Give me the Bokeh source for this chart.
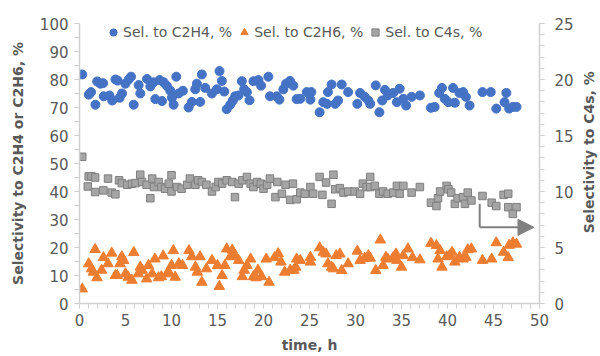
import math
from bokeh.plotting import figure
from bokeh.layouts import row
from bokeh.models import (Range1d, LinearAxis, SingleIntervalTicker, Legend, LegendItem,
                          Arrow, NormalHead, Label)
from bokeh.embed import file_html
from bokeh.resources import INLINE

# ---- data ----
t_c2h4 = [0.29, 1.01, 1.26, 1.73, 1.92, 2.28, 2.57, 2.64, 3.26, 3.55, 3.91, 4.16, 4.37, 4.62,
          4.99, 5.35, 5.6, 5.89, 6.43, 6.61, 7.34, 7.7, 8.06, 8.24, 8.71, 8.97, 9.15, 9.5,
          9.87, 10.05, 10.23, 10.52, 10.78, 11.24, 11.86, 12.22, 12.58, 12.76, 13.12, 13.3,
          13.67, 14.39, 14.93, 15.22, 15.47, 15.73, 16.0, 16.38, 16.67, 16.92, 17.28, 17.64,
          17.9, 18.19, 18.48, 18.91, 19.45, 19.74, 20.53, 20.71, 21.44, 21.73, 22.16, 22.45,
          22.88, 23.24, 23.6,
          24.0, 24.7, 25.2, 25.1, 26.1, 26.5, 26.9, 27.0, 27.4, 27.8, 28.1, 28.5, 29.2, 30.2,
          30.5, 31.0, 31.4, 31.6, 32.2, 32.6, 32.9, 33.2, 33.5, 34.1, 34.5, 34.8, 35.2, 35.5,
          36.1, 37.0, 38.2, 38.6, 39.1, 39.4, 39.7, 40.1, 40.6, 40.8, 41.3, 41.7, 42.0, 42.4,
          43.8, 44.7, 45.3, 46.2, 46.4, 46.7, 47.1, 47.5]
sel_c2h4 = [81.8, 74.6, 75.5, 71.0, 79.3, 78.5, 78.7, 74.0, 74.3, 72.5, 80.0, 79.6, 73.5, 75.0,
            78.5, 80.0, 81.0, 71.0, 78.0, 75.0, 80.2, 77.5, 79.0, 73.0, 79.8, 72.3, 79.0, 77.7,
            76.0, 73.5, 71.0, 81.0, 75.0, 76.0, 70.0, 72.0, 76.5, 78.5, 72.0, 81.8,
            77.0, 75.0, 76.5, 83.0, 79.5, 75.7, 69.4, 71.0, 72.5, 74.0, 74.3, 79.4,
            76.5, 75.5, 72.6, 79.4, 79.8, 77.8, 81.0, 74.0, 74.0, 72.8, 76.5, 78.5,
            79.5, 77.8, 73.0,
            73.1, 75.5, 75.5, 72.8, 68.3, 71.9, 71.3, 75.5, 78.2, 71.3, 72.5, 78.2, 75.5, 71.3,
            75.2, 73.8, 72.5, 71.3, 77.9, 68.3, 72.5, 76.3, 74.3, 75.2, 71.9, 76.7, 73.1, 70.7,
            73.8, 74.3, 69.9, 70.2, 75.2, 77.0, 73.1, 71.9, 77.0, 71.7, 75.2, 75.5, 73.8, 70.7,
            75.5, 75.5, 69.6, 71.9, 75.2, 69.6, 70.2, 70.2]

t_c2h6 = [0.3, 1.0, 1.3, 1.7, 1.5, 1.9, 2.4, 2.6, 3.1, 3.5, 3.9, 4.1, 4.4, 4.6, 4.8, 5.0, 5.3,
          5.7, 5.9, 6.4, 6.6, 6.8, 7.3, 7.5, 7.9, 8.2, 8.6, 8.9, 9.1, 9.5, 9.7, 10.0, 10.2,
          10.4, 10.8, 11.2, 11.9, 12.2, 12.6, 12.8, 13.1, 13.3, 13.8, 14.4, 15.0, 15.2, 15.5,
          15.8, 16.0, 16.4, 16.6, 16.9, 17.3, 17.7, 17.9, 18.2, 18.6, 18.9, 19.2, 19.4, 19.8,
          20.3, 20.6, 21.2, 21.6, 21.9, 22.3, 22.9, 23.3, 23.6, 23.5,
          24.0, 25.1, 25.1, 26.1, 26.5, 26.8, 27.0, 27.4, 27.6, 27.9, 28.3, 28.5, 29.2, 30.2,
          30.5, 31.0, 31.4, 31.6, 32.2, 32.7, 33.0, 33.3, 33.5, 34.1, 34.4, 34.5, 35.0, 35.2,
          35.7, 36.2, 37.0, 38.2, 38.8, 38.97, 39.2, 39.4, 39.9, 40.2, 40.5, 40.8, 41.3, 41.7,
          42.0, 42.2, 42.6, 43.8, 44.8, 45.3, 46.1, 46.6, 46.7, 47.1, 47.5]
sel_c2h6 = [5.2, 14.2, 12.4, 19.3, 11.2, 9.2, 11.9, 16.4, 14.2, 18.0, 10.0, 10.0, 14.2, 16.7,
            15.4, 10.6, 9.4, 8.3, 18.2, 10.6, 13.0, 11.9, 8.8, 13.6, 10.6, 15.9, 9.2, 9.6, 17.0,
            10.6, 11.2, 13.6, 18.9, 9.4, 14.2, 13.6, 18.9, 16.7, 13.0, 11.2, 16.7, 7.6, 12.4,
            15.4, 13.6, 6.1, 10.0, 13.6, 19.5, 16.7, 19.1, 17.0, 15.4, 9.6, 11.9, 13.6, 15.9,
            9.6, 9.2, 11.9, 9.6, 15.9, 7.6, 16.4, 17.8, 14.8, 11.2, 11.9, 11.9, 15.9, 13.0,
            15.4, 16.5, 14.8, 19.9, 18.3, 17.7, 14.2, 13.0, 12.4, 17.1, 17.7, 11.8, 14.2, 18.7,
            15.4, 16.2, 17.1, 16.2, 11.8, 22.7, 13.6, 16.5, 15.9, 16.4, 17.7, 15.4, 13.0, 17.1,
            19.5, 16.4, 15.6, 21.5, 20.7, 15.9, 18.9, 13.0, 16.7, 17.1, 18.3, 14.8, 16.5, 15.9,
            16.5, 19.2, 19.5, 15.4, 15.9, 21.7, 18.3, 16.4, 20.8, 21.7, 21.2]

t_c4 = [0.3, 0.9, 1.0, 1.3, 1.7, 1.7, 2.6, 3.1, 3.5, 3.9, 4.3, 4.6, 5.2, 5.7, 6.1, 6.6, 6.8,
        7.3, 7.7, 7.9, 8.1, 8.6, 8.9, 9.3, 9.7, 10.0, 10.0, 10.6, 11.1, 11.7, 12.0, 12.6, 12.9,
        13.3, 13.8, 14.4, 14.8, 15.1, 15.5, 16.0, 16.6, 16.9, 17.3, 17.7, 18.2, 18.6, 18.9,
        19.3, 19.7, 20.0, 20.4, 20.7, 21.3, 21.5, 22.0, 22.4, 22.9, 23.2, 23.6,
        24.0, 24.5, 25.1, 25.4, 26.1, 26.4, 26.8, 27.4, 27.6, 27.8, 28.3, 28.7, 29.2, 29.9,
        30.5, 30.8, 31.2, 31.6, 31.6, 32.1, 32.6, 33.0, 33.5, 34.1, 34.5, 34.8, 35.2, 36.1,
        37.0, 38.2, 38.8, 38.97, 39.2, 39.9, 40.1, 40.4, 40.8, 41.1, 41.7, 41.9, 42.2, 42.6,
        43.8, 44.8, 45.3, 46.1, 46.6, 46.6, 47.5, 47.1]
sel_c4 = [13.1, 10.45, 11.35, 11.35, 11.25, 9.95, 10.1, 11.15, 9.9, 9.75, 11.0, 10.75, 10.6,
          10.7, 10.75, 11.5, 10.85, 10.6, 9.4, 11.15, 10.4, 10.85, 10.4, 10.25, 10.7, 11.45,
          10.0, 10.4, 10.25, 10.6, 11.15, 10.6, 11.0, 10.85, 10.6, 10.0, 10.4, 10.85, 10.7,
          11.0, 10.85, 9.5, 10.7, 11.0, 11.3, 10.7, 10.4, 10.85, 10.7, 10.25, 10.6, 11.15, 9.5,
          10.85, 9.8, 10.6, 9.25, 10.7, 9.3,
          9.9, 9.8, 10.4, 9.8, 11.3, 9.7, 10.8, 8.9, 11.5, 10.2, 10.3, 9.9, 10.0, 10.0,
          9.8, 10.7, 10.4, 11.3, 10.4, 10.5, 9.8, 10.0, 9.8, 9.9, 10.5, 9.8, 10.5, 9.9,
          10.4, 9.0, 8.7, 9.4, 10.0, 10.5, 10.2, 9.9, 8.9, 9.4, 9.5, 8.9, 9.9, 9.2,
          9.6, 9.0, 8.7, 9.7, 9.8, 8.6, 8.6, 8.0]

left_title = "Selectivity to C2H4 or C2H6, %"
right_title = "Selectivity to C4s, %"
x_title = "time, h"
labels = ["Sel. to C2H4, %", "Sel. to C2H6, %", "Sel. to C4s, %"]

# ---- styles ----
TXT = "#595959"
AX = "#d0d0d0"
FONT = "DejaVu Sans"
BLUE, ORANGE, GRAY, GRAYLINE = "#4472C4", "#ED7D31", "#A5A5A5", "#7F7F7F"

p = figure(width=576, height=356, output_backend="svg", toolbar_location=None,
           x_range=Range1d(0, 50), y_range=Range1d(0, 100),
           min_border_left=79, min_border_right=36, min_border_top=23, min_border_bottom=53)
p.outline_line_color = None
p.xgrid.visible = False
p.ygrid.visible = False

p.extra_y_ranges = {"c4": Range1d(0, 25)}
rax = LinearAxis(y_range_name="c4")
p.add_layout(rax, "right")

p.xaxis.ticker = SingleIntervalTicker(interval=5, num_minor_ticks=5)
p.yaxis[0].ticker = SingleIntervalTicker(interval=10, num_minor_ticks=2)
rax.ticker = SingleIntervalTicker(interval=5, num_minor_ticks=5)

for ax in [p.xaxis[0], p.yaxis[0], rax]:
    ax.axis_line_color = AX
    ax.axis_line_width = 1.5
    ax.major_tick_line_color = AX
    ax.minor_tick_line_color = AX
    ax.major_tick_in = 0
    ax.minor_tick_in = 0
    ax.major_tick_out = 5
    ax.minor_tick_out = 5
    ax.major_label_text_font = FONT
    ax.major_label_text_font_size = "15px"
    ax.major_label_text_color = TXT
    ax.axis_label_text_font = FONT
    ax.axis_label_text_font_size = "14px"
    ax.axis_label_text_font_style = "bold"
    ax.axis_label_text_color = TXT

p.xaxis[0].axis_label = x_title
p.xaxis[0].major_label_standoff = 5
p.xaxis[0].axis_label_standoff = 8

p.yaxis[0].axis_label = left_title
p.yaxis[0].major_label_standoff = 6
p.yaxis[0].axis_label_standoff = 11

rax.major_label_standoff = 10

r1 = p.scatter(t_c2h4, sel_c2h4, marker="circle", size=9, fill_color=BLUE, line_color=BLUE)
r2 = p.scatter(t_c2h6, sel_c2h6, marker="triangle", size=10.5, fill_color=ORANGE, line_color=ORANGE)
r3 = p.scatter(t_c4, sel_c4, marker="square", size=7.5, fill_color=GRAY, line_color=GRAYLINE,
               line_width=1, y_range_name="c4")

# arrow pointing to the right axis
p.line([43.5, 43.5], [35.6, 27.2], line_color="#808080", line_width=2)
p.add_layout(Arrow(x_start=43.5, y_start=27.2, x_end=49.4, y_end=27.2,
                   line_color="#808080", line_width=2,
                   end=NormalHead(size=16, fill_color="#808080", line_color="#808080")))

legend = Legend(items=[LegendItem(label=labels[0], renderers=[r1]),
                       LegendItem(label=labels[1], renderers=[r2]),
                       LegendItem(label=labels[2], renderers=[r3])],
                orientation="horizontal", location=(24, 262),
                glyph_width=20, glyph_height=18, label_standoff=0, spacing=2,
                padding=0, margin=0, background_fill_alpha=0, border_line_color=None,
                label_text_font=FONT, label_text_font_size="14px", label_text_color=TXT)
p.add_layout(legend)

# narrow strip on the right carrying the right-hand axis title (reads bottom-to-top)
p2 = figure(width=24, height=356, output_backend="svg", toolbar_location=None,
            x_range=Range1d(0, 1), y_range=Range1d(0, 1), min_border=0)
p2.axis.visible = False
p2.grid.visible = False
p2.outline_line_color = None
p2.add_layout(Label(x=0.5, y=0.54, text=right_title, angle=math.pi / 2,
                    text_align="center", text_baseline="middle", text_font=FONT,
                    text_font_size="14px", text_font_style="bold", text_color=TXT))

layout = row(p, p2, spacing=0)
open("out.html", "w").write(file_html(layout, INLINE))
